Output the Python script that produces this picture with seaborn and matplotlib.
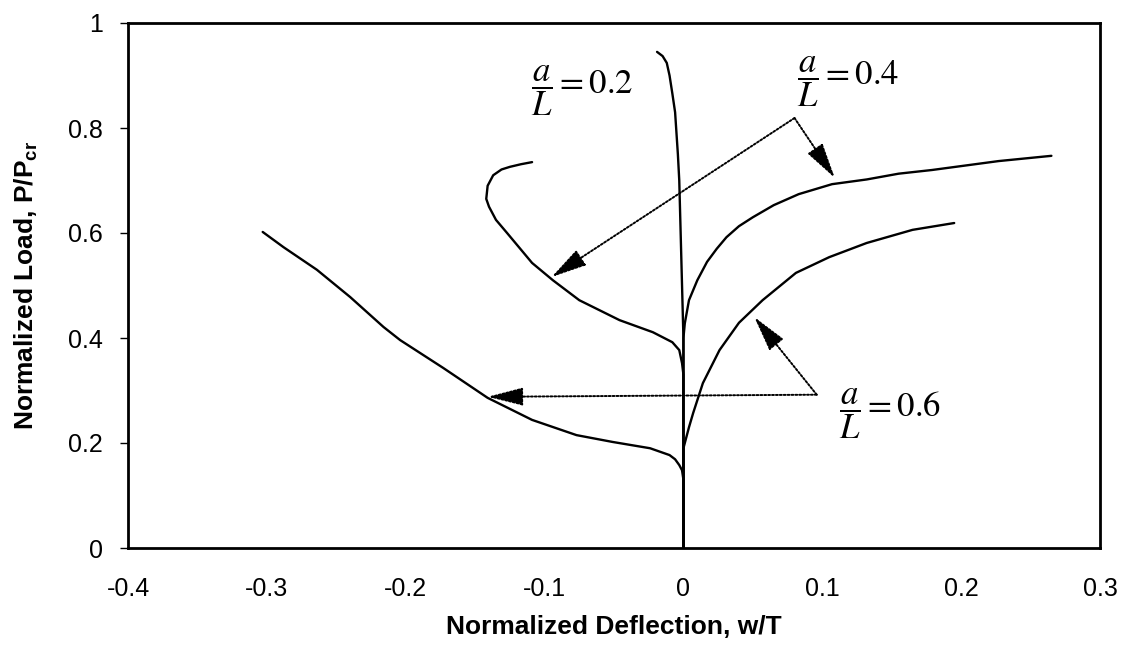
import matplotlib
matplotlib.use("Agg")
import matplotlib.pyplot as plt
import numpy as np
import pandas as pd
import seaborn as sns

# ---- load-deflection curves (w/T, P/Pcr) ----
# a/L = 0.2
defl_02 = [0.0, 0.0, -0.001, -0.002, -0.003, -0.004, -0.005, -0.006, -0.008,
           -0.010, -0.012, -0.015, -0.019]
load_02 = [0.0, 0.40, 0.50, 0.60, 0.70, 0.75, 0.79, 0.83, 0.866,
           0.90, 0.924, 0.937, 0.945]

# a/L = 0.4, negative branch (hooked) and positive branch
defl_04_neg = [0.0, 0.0, -0.001, -0.003, -0.008, -0.022, -0.046, -0.075, -0.094,
               -0.109, -0.127, -0.135, -0.140, -0.142, -0.141, -0.137, -0.131,
               -0.125, -0.117, -0.109]
load_04_neg = [0.0, 0.33, 0.352, 0.377, 0.392, 0.411, 0.434, 0.472, 0.510,
               0.543, 0.600, 0.625, 0.650, 0.665, 0.690, 0.710, 0.721,
               0.726, 0.731, 0.735]
defl_04_pos = [0.0, 0.0, 0.001, 0.004, 0.010, 0.017, 0.024, 0.031, 0.040, 0.050,
               0.065, 0.083, 0.107, 0.132, 0.155, 0.179, 0.227, 0.265]
load_04_pos = [0.0, 0.40, 0.428, 0.472, 0.510, 0.545, 0.570, 0.592, 0.613, 0.630,
               0.653, 0.674, 0.693, 0.702, 0.713, 0.720, 0.737, 0.747]

# a/L = 0.6, negative and positive branches
defl_06_neg = [0.0, 0.0, -0.001, -0.003, -0.006, -0.010, -0.024, -0.051, -0.077,
               -0.109, -0.141, -0.173, -0.204, -0.216, -0.240, -0.264, -0.288, -0.303]
load_06_neg = [0.0, 0.13, 0.148, 0.158, 0.169, 0.177, 0.190, 0.202, 0.215,
               0.244, 0.286, 0.343, 0.396, 0.421, 0.478, 0.530, 0.573, 0.602]
defl_06_pos = [0.0, 0.0, 0.001, 0.004, 0.007, 0.014, 0.026, 0.040, 0.057, 0.081,
               0.105, 0.132, 0.165, 0.195]
load_06_pos = [0.0, 0.19, 0.20, 0.230, 0.257, 0.314, 0.377, 0.429, 0.472, 0.524,
               0.554, 0.581, 0.606, 0.619]

x_ticks = [-0.4, -0.3, -0.2, -0.1, 0.0, 0.1, 0.2, 0.3]
x_tick_labels = ["-0.4", "-0.3", "-0.2", "-0.1", "0", "0.1", "0.2", "0.3"]
y_ticks = [0.0, 0.2, 0.4, 0.6, 0.8, 1.0]
y_tick_labels = ["0", "0.2", "0.4", "0.6", "0.8", "1"]

curves = {
    "0.2": (defl_02, load_02),
    "0.4 neg": (defl_04_neg, load_04_neg),
    "0.4 pos": (defl_04_pos, load_04_pos),
    "0.6 neg": (defl_06_neg, load_06_neg),
    "0.6 pos": (defl_06_pos, load_06_pos),
}
frames = []
for name, (xs, ys) in curves.items():
    frames.append(pd.DataFrame({"w_T": xs, "P_Pcr": ys, "curve": name}))
df = pd.concat(frames, ignore_index=True)

sns.set_theme(style="white")
plt.rcParams["font.family"] = ["Liberation Sans", "DejaVu Sans"]
plt.rcParams["axes.unicode_minus"] = False
plt.rcParams["mathtext.fontset"] = "custom"
plt.rcParams["mathtext.rm"] = "Liberation Sans"
plt.rcParams["mathtext.bf"] = "Liberation Sans:bold"

fig = plt.figure(figsize=(11.26, 6.45), dpi=100)
ax = fig.add_axes([128 / 1126, 1 - 548 / 645, (1100 - 128) / 1126, (548 - 23) / 645])

sns.lineplot(data=df, x="w_T", y="P_Pcr", units="curve", estimator=None,
             sort=False, color="black", linewidth=1.7, ax=ax)
for ln in ax.get_lines():
    ln.set_solid_joinstyle("round")

ax.set_xlim(-0.4, 0.3)
ax.set_ylim(0, 1)
ax.set_xticks(x_ticks)
ax.set_xticklabels(x_tick_labels)
ax.set_yticks(y_ticks)
ax.set_yticklabels(y_tick_labels)
ax.tick_params(axis="x", length=0, pad=21, labelsize=18, colors="black")
ax.tick_params(axis="y", direction="out", length=6, width=1, pad=12,
               labelsize=18, colors="black", left=True)
for sp in ax.spines.values():
    sp.set_color("black")
    sp.set_linewidth(2)

ax.set_xlabel("Normalized Deflection, w/T", fontsize=19, fontweight="bold",
              labelpad=10, color="black")
ax.set_ylabel(r"Normalized Load, P/P$_{\mathbf{cr}}$", fontsize=19,
              fontweight="bold", labelpad=20, color="black")

# dotted leader lines with solid arrow heads
def leader(start, tip):
    ax.annotate("", xy=tip, xytext=start,
                arrowprops=dict(arrowstyle="-|>,head_length=1.1,head_width=0.28",
                                linestyle=(0, (1, 1)), linewidth=1.4,
                                color="black", shrinkA=0, shrinkB=0,
                                mutation_scale=20))

leader((0.080, 0.819), (-0.095, 0.516))
leader((0.080, 0.819), (0.109, 0.705))
leader((0.096, 0.292), (-0.141, 0.288))
leader((0.096, 0.292), (0.051, 0.440))

frac_kw = dict(fontsize=25, ha="left", va="center", math_fontfamily="stix",
               color="black")
ax.text(-0.110, 0.872, r"$\dfrac{a}{L}=0.2$", **frac_kw)
ax.text(0.082, 0.888, r"$\dfrac{a}{L}=0.4$", **frac_kw)
ax.text(0.112, 0.257, r"$\dfrac{a}{L}=0.6$", **frac_kw)

fig.savefig("out.png", dpi=100, facecolor="white")
